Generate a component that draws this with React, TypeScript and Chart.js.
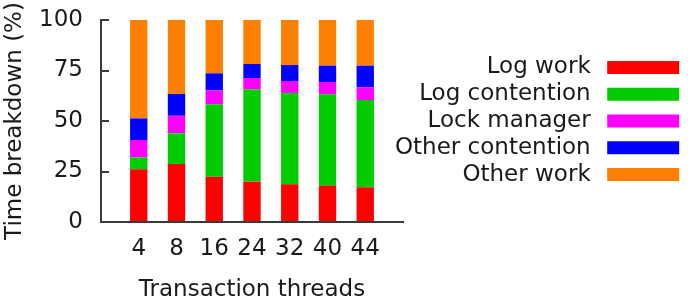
import React, { useEffect, useRef } from "react";
import { Chart, registerables } from "chart.js";

Chart.register(...registerables);

const threads = ["4", "8", "16", "24", "32", "40", "44"];
const logWork = [26.1, 28.7, 22.4, 20.0, 18.7, 18.0, 17.2];
const logContention = [5.9, 15.2, 35.9, 45.7, 45.2, 45.2, 43.2];
const lockManager = [8.6, 8.7, 6.9, 5.6, 5.9, 6.1, 6.3];
const otherContention = [10.7, 10.8, 8.4, 6.9, 7.9, 8.1, 10.7];
const otherWork = [48.7, 36.6, 26.4, 21.8, 22.3, 22.6, 22.6];
const yTicks = [0, 25, 50, 75, 100];

const seriesNames = ["Log work", "Log contention", "Lock manager", "Other contention", "Other work"];
const seriesColors = ["#ff0000", "#00cc00", "#ff00ff", "#0000ff", "#ff8000"];
const seriesValues = [logWork, logContention, lockManager, otherContention, otherWork];

const FONT = "'DejaVu Sans', sans-serif";
const TEXT = "#1a1a1a";
const AXIS = "#3a3a3a";

// let the legend's drawing area reach left over the end of the x axis (no clipping of long labels)
const legendReach = {
  id: "legendReach",
  afterLayout(chart: any) {
    const lg = chart.legend;
    if (!lg) return;
    const extra = 40;
    lg.left -= extra;
    lg.width += extra;
  },
};

export default function App() {
  const ref = useRef<HTMLCanvasElement | null>(null);

  useEffect(() => {
    if (!ref.current) return;
    // one empty slot on each side of the categories
    const labels = ["", ...threads, ""];
    const chart = new Chart(ref.current, {
      type: "bar",
      data: {
        labels,
        datasets: seriesNames.map((name, i) => ({
          label: name,
          data: [null, ...seriesValues[i], null],
          backgroundColor: seriesColors[i],
          borderWidth: 0,
          barPercentage: 0.46,
          categoryPercentage: 1,
        })),
      },
      plugins: [legendReach],
      options: {
        animation: false,
        responsive: false,
        devicePixelRatio: 1,
        layout: { padding: { left: 0, right: 0, top: 20, bottom: 0 } },
        plugins: {
          tooltip: { enabled: false },
          legend: {
            position: "right",
            fullSize: false,
            rtl: true,
            textDirection: "ltr",
            maxWidth: 285,
            labels: {
              font: { family: FONT, size: 23 },
              color: TEXT,
              boxWidth: 82,
              boxHeight: 23,
              padding: 3.8,
              generateLabels: (c: any) =>
                Chart.defaults.plugins.legend.labels
                  .generateLabels(c)
                  .map((l: any) => ({ ...l, strokeStyle: "#ffffff", lineWidth: 10 })),
            },
          },
        },
        scales: {
          x: {
            stacked: true,
            offset: false,
            grid: { display: false, drawTicks: false },
            border: { display: true, color: AXIS, width: 2 },
            ticks: {
              font: { family: FONT, size: 23 },
              color: TEXT,
              padding: 13,
              autoSkip: false,
              maxRotation: 0,
            },
            title: {
              display: true,
              text: "Transaction threads",
              font: { family: FONT, size: 23 },
              color: TEXT,
              padding: { top: 0, bottom: 4 },
            },
            afterFit: (s: any) => {
              s.height = 86;
              s.paddingLeft = 0;
              s.paddingRight = 0;
            },
          },
          y: {
            stacked: true,
            min: 0,
            max: 100,
            afterBuildTicks: (s: any) => {
              s.ticks = yTicks.map((v) => ({ value: v }));
            },
            grid: {
              display: true,
              drawOnChartArea: false,
              drawTicks: true,
              tickLength: -8,
              tickColor: AXIS,
              lineWidth: 2,
            },
            border: { display: true, color: AXIS, width: 2 },
            ticks: {
              font: { family: FONT, size: 23 },
              color: TEXT,
              padding: 26,
            },
            title: {
              display: true,
              text: "Time breakdown (%)",
              font: { family: FONT, size: 23 },
              color: TEXT,
              padding: { top: 1, bottom: 0 },
            },
            afterFit: (s: any) => {
              s.width = 101;
              s.paddingTop = 0;
              s.paddingBottom = 0;
            },
          },
        },
      },
    });
    return () => chart.destroy();
  }, []);

  return (
    <div style={{ position: "fixed", left: 0, top: 0, width: 688, height: 308, background: "#fff" }}>
      <canvas ref={ref} width={688} height={308} />
    </div>
  );
}
